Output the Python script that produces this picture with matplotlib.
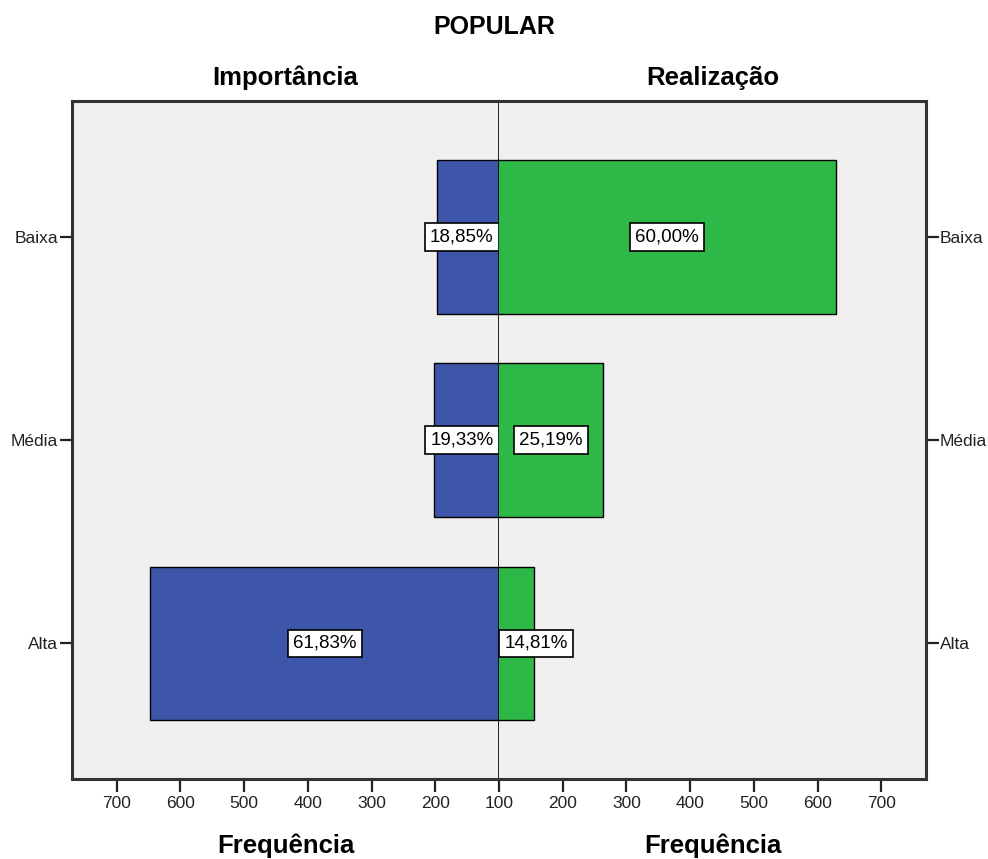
import matplotlib
matplotlib.use("Agg")
import matplotlib.pyplot as plt

plt.rcParams['font.family'] = ['Liberation Sans', 'DejaVu Sans']

title = "POPULAR"
categories = ["Alta", "Média", "Baixa"]            # bottom -> top
imp_counts = [647, 202, 197]                        # Importância
real_counts = [155, 263, 628]                       # Realização
imp_pct = ["61,83%", "19,33%", "18,85%"]
real_pct = ["14,81%", "25,19%", "60,00%"]
left_title = "Importância"
right_title = "Realização"
xlabel = "Frequência"
ticks_left = [700, 600, 500, 400, 300, 200, 100]
ticks_right = [200, 300, 400, 500, 600, 700]

blue = "#3e56aa"
green = "#2eb848"
bg = "#f0f0f0"
xmin, xmax = 100, 770

W, H = 988, 859
fig = plt.figure(figsize=(W / 100, H / 100), dpi=100)
x0, xc, x1 = 72 / W, 499 / W, 926 / W
ybot, ytop = 1 - 779 / H, 1 - 100.5 / H
axL = fig.add_axes([x0, ybot, xc - x0, ytop - ybot])
axR = fig.add_axes([xc, ybot, x1 - xc, ytop - ybot])

ypos = list(range(len(categories)))
for ax, counts, pcts, color, side in [(axL, imp_counts, imp_pct, blue, "L"),
                                      (axR, real_counts, real_pct, green, "R")]:
    ax.set_facecolor(bg)
    ax.barh(ypos, counts, height=0.755, color=color, edgecolor="black", linewidth=1.0, zorder=2)
    ax.set_xlim(xmin, xmax)
    ax.set_ylim(-0.667, 2.671)
    for s in ax.spines.values():
        s.set_linewidth(2.2)
        s.set_color("#333333")
    ax.tick_params(axis="both", direction="out", length=9, width=1.6, labelsize=12.5,
                   colors="#222222", pad=1)
    ax.tick_params(axis="x", pad=3)
    ax.set_yticks(ypos)
    ax.set_yticklabels(categories)
    px_per_unit = (499 - 72) / (xmax - xmin)
    for y, c, p in zip(ypos, counts, pcts):
        vis = (c - xmin) * px_per_unit
        box = dict(boxstyle="square,pad=0.28", fc="white", ec="black", lw=1.2)
        if vis < 80:
            ha = "right" if side == "L" else "left"
            ax.annotate(p, xy=(xmin, y), xytext=(-4 if side == "L" else 4, 0), textcoords="offset points",
                        ha=ha, va="center", fontsize=13.5, bbox=box, zorder=5)
        else:
            ax.text((xmin + c) / 2, y, p, ha="center", va="center", fontsize=13.5, bbox=box, zorder=5)

axL.invert_xaxis()
axL.set_xticks(ticks_left)
axL.set_xticklabels([str(t) for t in ticks_left])
axR.set_xticks(ticks_right)
axR.set_xticklabels([str(t) for t in ticks_right])
axL.spines["right"].set_visible(False)
axR.spines["left"].set_visible(False)
axR.yaxis.tick_right()
axR.tick_params(axis="y", which="both", left=False, right=True)
axL.axvline(xmin, color="black", lw=1.2, zorder=3, clip_on=False)

fig.text(0.5, 1 - 27 / H, title, ha="center", va="center", fontsize=18, fontweight="bold")
fig.text((x0 + xc) / 2, 1 - 78 / H, left_title, ha="center", va="center", fontsize=18.5, fontweight="bold")
fig.text((xc + x1) / 2, 1 - 78 / H, right_title, ha="center", va="center", fontsize=18.5, fontweight="bold")
fig.text((x0 + xc) / 2, 1 - 846 / H, xlabel, ha="center", va="center", fontsize=18.5, fontweight="bold")
fig.text((xc + x1) / 2, 1 - 846 / H, xlabel, ha="center", va="center", fontsize=18.5, fontweight="bold")

fig.savefig("out.png", dpi=100)
